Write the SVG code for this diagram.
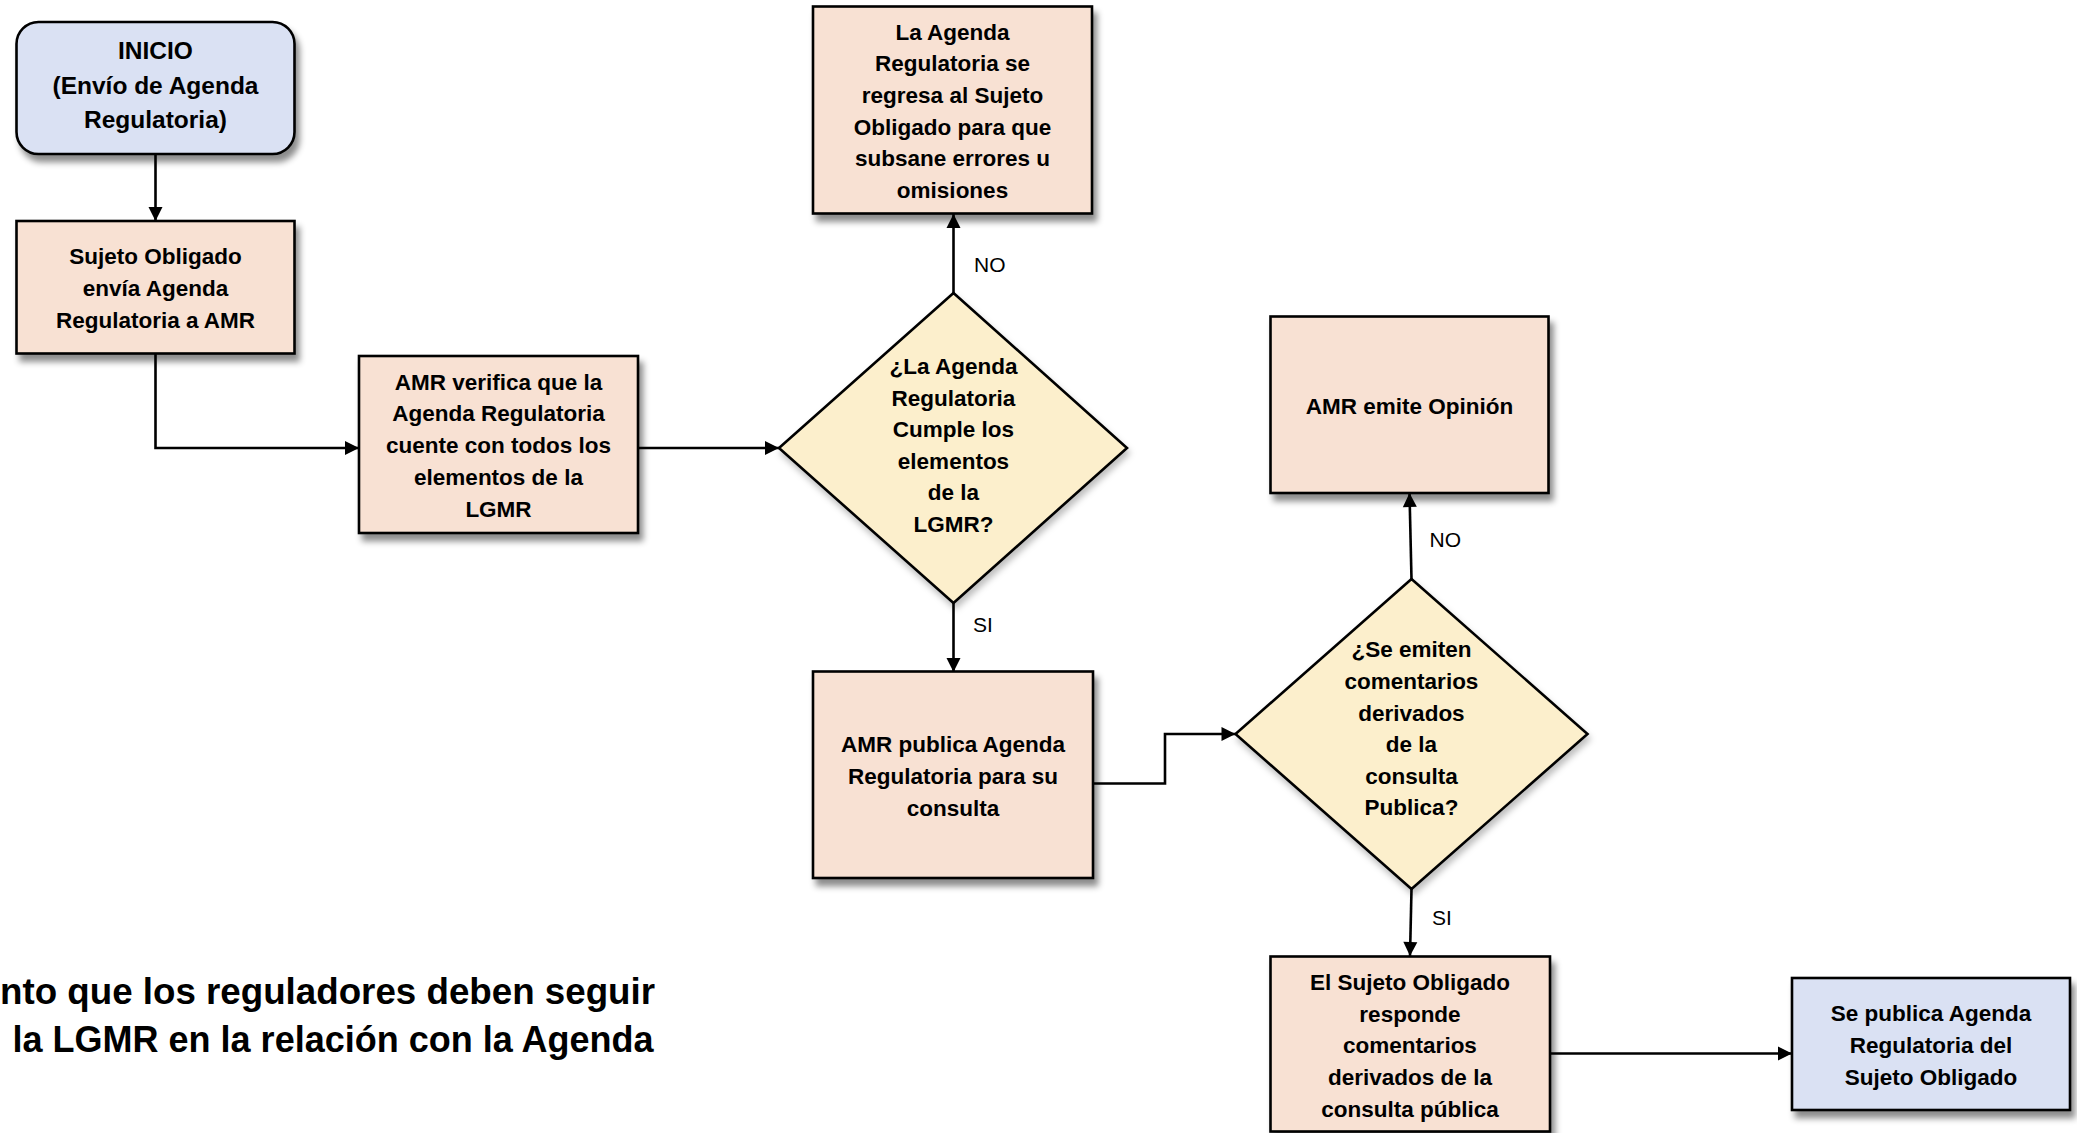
<svg xmlns="http://www.w3.org/2000/svg" width="2077" height="1133" viewBox="0 0 2077 1133">
  <style>
    .box { stroke: #000; stroke-width: 2.6; filter: url(#shadow); }
    .proc { fill: #f8e1d3; }
    .term { fill: #dae1f3; }
    .dec { fill: #fcefcc; stroke: #000; stroke-width: 2.6; filter: url(#dshadow); }
    .t { font-family: "Liberation Sans", Arial, sans-serif; font-weight: bold; font-size: 22.5px; fill: #000; text-anchor: middle; }
    .lbl { font-family: "Liberation Sans", Arial, sans-serif; font-size: 21px; fill: #000; }
    .title { font-family: "Liberation Sans", Arial, sans-serif; font-weight: bold; font-size: 37.5px; fill: #000; }
    .conn { fill: none; stroke: #000; stroke-width: 2.6; marker-end: url(#arrow); }
  </style>
  <defs>
    <filter id="shadow" x="-10%" y="-10%" width="125%" height="130%">
      <feDropShadow dx="4" dy="7" stdDeviation="3" flood-color="#000" flood-opacity="0.45"/>
    </filter>
    <filter id="dshadow" x="-10%" y="-10%" width="125%" height="130%">
      <feDropShadow dx="2" dy="5" stdDeviation="3" flood-color="#000" flood-opacity="0.25"/>
    </filter>
    <marker id="arrow" markerUnits="userSpaceOnUse" markerWidth="16" markerHeight="16" viewBox="0 0 16 16" refX="15" refY="8" orient="auto">
      <path d="M1,1 L15,8 L1,15 Z" fill="#000"/>
    </marker>
  </defs>

  <g id="connectors">
    <path class="conn" d="M155.5,154 V221"/>
    <path class="conn" d="M155.5,354 V448 H359"/>
    <path class="conn" d="M638,448 H779"/>
    <path class="conn" d="M953.5,293 V214"/>
    <path class="conn" d="M953.5,603 V672"/>
    <path class="conn" d="M1093,783.5 H1165 V734 H1235.5"/>
    <path class="conn" d="M1411.5,579 L1409.5,493"/>
    <path class="conn" d="M1411.5,889 L1410,956"/>
    <path class="conn" d="M1550,1053.5 H1792"/>
    <text class="lbl" x="974" y="272">NO</text>
    <text class="lbl" x="973" y="632">SI</text>
    <text class="lbl" x="1429.5" y="547">NO</text>
    <text class="lbl" x="1432" y="925">SI</text>
  </g>

  <g id="inicio">
    <rect class="box term" x="16.5" y="22" width="278" height="132" rx="22" ry="22"/>
    <text class="t" style="font-size:24.5px" x="155.5" y="59">INICIO</text>
    <text class="t" style="font-size:24.5px" x="155.5" y="93.5">(Envío de Agenda</text>
    <text class="t" style="font-size:24.5px" x="155.5" y="128">Regulatoria)</text>
  </g>

  <g id="sujeto-envia">
    <rect class="box proc" x="16.5" y="221" width="278" height="132.5"/>
    <text class="t" x="155.5" y="264">Sujeto Obligado</text>
    <text class="t" x="155.5" y="296">envía Agenda</text>
    <text class="t" x="155.5" y="327.5">Regulatoria a AMR</text>
  </g>

  <g id="amr-verifica">
    <rect class="box proc" x="359" y="356" width="279" height="177"/>
    <text class="t" x="498.5" y="389.5">AMR verifica que la</text>
    <text class="t" x="498.5" y="421">Agenda Regulatoria</text>
    <text class="t" x="498.5" y="453">cuente con todos los</text>
    <text class="t" x="498.5" y="485">elementos de la</text>
    <text class="t" x="498.5" y="516.5">LGMR</text>
  </g>

  <g id="decision-cumple">
    <polygon class="dec" points="953.5,293 1127,448 953.5,603 779,448"/>
    <text class="t" x="953.5" y="374">¿La Agenda</text>
    <text class="t" x="953.5" y="405.5">Regulatoria</text>
    <text class="t" x="953.5" y="437">Cumple los</text>
    <text class="t" x="953.5" y="468.5">elementos</text>
    <text class="t" x="953.5" y="500">de la</text>
    <text class="t" x="953.5" y="531.5">LGMR?</text>
  </g>

  <g id="se-regresa">
    <rect class="box proc" x="813" y="6.5" width="279" height="207"/>
    <text class="t" x="952.5" y="39.5">La Agenda</text>
    <text class="t" x="952.5" y="71">Regulatoria se</text>
    <text class="t" x="952.5" y="103">regresa al Sujeto</text>
    <text class="t" x="952.5" y="134.5">Obligado para que</text>
    <text class="t" x="952.5" y="166">subsane errores u</text>
    <text class="t" x="952.5" y="197.5">omisiones</text>
  </g>

  <g id="amr-publica">
    <rect class="box proc" x="813" y="671.5" width="280" height="206.5"/>
    <text class="t" x="953" y="752">AMR publica Agenda</text>
    <text class="t" x="953" y="784">Regulatoria para su</text>
    <text class="t" x="953" y="816">consulta</text>
  </g>

  <g id="decision-comentarios">
    <polygon class="dec" points="1411.5,579 1587.5,734 1411.5,889 1235.5,734"/>
    <text class="t" x="1411.5" y="657">¿Se emiten</text>
    <text class="t" x="1411.5" y="689">comentarios</text>
    <text class="t" x="1411.5" y="720.5">derivados</text>
    <text class="t" x="1411.5" y="752">de la</text>
    <text class="t" x="1411.5" y="783.5">consulta</text>
    <text class="t" x="1411.5" y="815">Publica?</text>
  </g>

  <g id="amr-opinion">
    <rect class="box proc" x="1270.5" y="316.5" width="278" height="176.5"/>
    <text class="t" x="1409.5" y="413.5">AMR emite Opinión</text>
  </g>

  <g id="sujeto-responde">
    <rect class="box proc" x="1270.5" y="956.5" width="279.5" height="175"/>
    <text class="t" x="1410" y="990">El Sujeto Obligado</text>
    <text class="t" x="1410" y="1021.5">responde</text>
    <text class="t" x="1410" y="1053">comentarios</text>
    <text class="t" x="1410" y="1085">derivados de la</text>
    <text class="t" x="1410" y="1116.5">consulta pública</text>
  </g>

  <g id="se-publica">
    <rect class="box term" x="1792" y="978" width="278" height="132"/>
    <text class="t" x="1931" y="1021">Se publica Agenda</text>
    <text class="t" x="1931" y="1053">Regulatoria del</text>
    <text class="t" x="1931" y="1085">Sujeto Obligado</text>
  </g>

  <g id="titulo">
    <text class="title" x="0" y="1003.5" textLength="655" lengthAdjust="spacingAndGlyphs">nto que los reguladores deben seguir</text>
    <text class="title" x="12.5" y="1052" textLength="641" lengthAdjust="spacingAndGlyphs">la LGMR en la relación con la Agenda</text>
  </g>
</svg>
